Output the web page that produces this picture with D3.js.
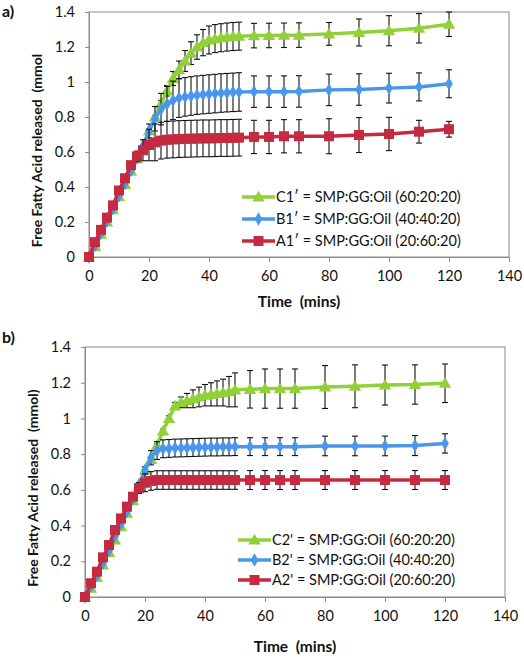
<!DOCTYPE html>
<html><head><meta charset="utf-8">
<script src="https://cdn.jsdelivr.net/npm/d3@7"></script>
<style>
body{margin:0;background:#fff;}
svg{display:block;}
text{font-family:Lato,"Open Sans",sans-serif;white-space:pre;}
</style></head>
<body>
<svg id="chart" width="524" height="658"></svg>
<script>
// ---------- DATA ----------
const times = [0,2,4,6,8,10,12,14,16,18,20,22,24,26,28,30,32,34,36,38,40,42,44,46,48,50,55,60,65,70,80,90,100,110,120];

// Panel a
const a_C1 = [0,0.06,0.13,0.2,0.27,0.345,0.415,0.49,0.56,0.635,0.72,0.8,0.875,0.95,1.02,1.07,1.12,1.165,1.2,1.225,1.24,1.248,1.253,1.257,1.26,1.262,1.265,1.266,1.267,1.268,1.275,1.283,1.293,1.307,1.33];
const a_C1err = [0,0,0,0,0,0,0,0,0,0,0.01,0.01,0.02,0.03,0.04,0.05,0.06,0.065,0.07,0.075,0.08,0.08,0.08,0.08,0.08,0.08,0.07,0.07,0.07,0.07,0.065,0.077,0.086,0.084,0.07];
const a_B1 = [0,0.065,0.135,0.205,0.275,0.35,0.42,0.495,0.565,0.635,0.72,0.79,0.845,0.875,0.895,0.908,0.915,0.92,0.925,0.928,0.931,0.934,0.937,0.939,0.941,0.943,0.945,0.945,0.945,0.946,0.955,0.957,0.965,0.972,0.99];
const a_B1err = [0,0,0,0,0,0,0,0,0,0,0.04,0.07,0.09,0.1,0.11,0.11,0.11,0.11,0.11,0.11,0.11,0.11,0.11,0.11,0.11,0.11,0.09,0.09,0.09,0.09,0.09,0.09,0.085,0.08,0.08];
const a_A1 = [0,0.085,0.155,0.225,0.295,0.38,0.45,0.525,0.575,0.61,0.64,0.655,0.665,0.67,0.672,0.674,0.675,0.676,0.677,0.678,0.678,0.679,0.68,0.68,0.681,0.682,0.686,0.686,0.69,0.69,0.69,0.697,0.703,0.716,0.73];
const a_A1err = [0,0,0,0,0,0,0,0,0.03,0.06,0.09,0.105,0.105,0.105,0.105,0.105,0.105,0.105,0.105,0.105,0.105,0.105,0.105,0.105,0.105,0.105,0.095,0.095,0.095,0.095,0.1,0.1,0.095,0.065,0.045];

// Panel b
const b_C2 = [0,0.05,0.11,0.18,0.25,0.32,0.394,0.469,0.54,0.62,0.71,0.77,0.85,0.93,1.0,1.07,1.09,1.1,1.11,1.12,1.13,1.135,1.14,1.145,1.15,1.16,1.163,1.167,1.167,1.167,1.176,1.18,1.187,1.19,1.197];
const b_C2err = [0,0,0,0,0,0,0,0,0,0,0,0.01,0.01,0.01,0.015,0.02,0.03,0.04,0.05,0.055,0.06,0.065,0.07,0.075,0.085,0.095,0.105,0.11,0.11,0.11,0.12,0.12,0.112,0.11,0.108];
const b_B2 = [0,0.06,0.12,0.19,0.26,0.34,0.41,0.48,0.55,0.63,0.71,0.78,0.82,0.83,0.832,0.834,0.835,0.836,0.837,0.838,0.839,0.84,0.84,0.841,0.841,0.842,0.842,0.842,0.842,0.842,0.846,0.846,0.846,0.848,0.86];
const b_B2err = [0,0,0,0,0,0,0,0,0,0,0.02,0.04,0.05,0.05,0.05,0.05,0.05,0.05,0.05,0.05,0.05,0.05,0.05,0.05,0.05,0.05,0.05,0.05,0.05,0.05,0.055,0.055,0.055,0.056,0.054];
const b_A2 = [0,0.077,0.142,0.222,0.291,0.375,0.44,0.506,0.562,0.61,0.64,0.65,0.655,0.655,0.655,0.655,0.655,0.655,0.655,0.655,0.655,0.655,0.655,0.655,0.655,0.655,0.655,0.655,0.655,0.655,0.655,0.655,0.655,0.655,0.655];
const b_A2err = [0,0,0,0,0,0,0,0,0,0.03,0.05,0.052,0.052,0.052,0.052,0.052,0.052,0.052,0.052,0.052,0.052,0.052,0.052,0.052,0.052,0.052,0.053,0.053,0.053,0.053,0.053,0.053,0.053,0.053,0.053];

const xTicks = [0,20,40,60,80,100,120,140];
const yTicks = [0,0.2,0.4,0.6,0.8,1,1.2,1.4];
const yTickLabels = ["0","0.2","0.4","0.6","0.8","1","1.2","1.4"];

const labels_a = ["C1\u2032 = SMP:GG:Oil (60:20:20)","B1\u2032 = SMP:GG:Oil (40:40:20)","A1\u2032 = SMP:GG:Oil (20:60:20)"];
const labels_b = ["C2' = SMP:GG:Oil (60:20:20)","B2' = SMP:GG:Oil (40:40:20)","A2' = SMP:GG:Oil (20:60:20)"];

const colors = {green:"#92D03A", blue:"#4A96EA", red:"#C62A40"};

// ---------- DRAW ----------
const svg = d3.select("#chart");

function marker(g, type, color, x, y){
  if(type==="square"){
    g.append("rect").attr("x",x-5).attr("y",y-5).attr("width",10).attr("height",10).attr("fill",color);
  } else if(type==="triangle"){
    g.append("path").attr("d",d3.symbol().type(d3.symbolTriangle).size(66)()).attr("transform",`translate(${x},${y+1})`).attr("fill",color);
  } else {
    g.append("path").attr("d",d3.symbol().type(d3.symbolDiamond).size(52)()).attr("transform",`translate(${x},${y})`).attr("fill",color);
  }
}

function panel(cfg){
  const x = d3.scaleLinear().domain([0,140]).range([cfg.x0,cfg.x1]);
  const y = d3.scaleLinear().domain([0,1.4]).range([cfg.y0,cfg.y1]);
  const g = svg.append("g");

  g.append("rect").attr("x",cfg.x0).attr("y",cfg.y1).attr("width",cfg.x1-cfg.x0).attr("height",cfg.y0-cfg.y1)
    .attr("fill","none").attr("stroke","#8c8c8c").attr("stroke-width",1);

  const xa = g.append("g").attr("transform",`translate(0,${cfg.y0})`)
    .call(d3.axisBottom(x).tickValues(xTicks).tickSize(5).tickPadding(9).tickFormat(d3.format("d")));
  xa.select(".domain").attr("stroke","#8c8c8c");
  xa.selectAll(".tick line").attr("stroke","#8c8c8c");
  xa.selectAll("text").attr("font-size",14.5).attr("fill","#111");

  const ya = g.append("g").attr("transform",`translate(${cfg.x0},0)`)
    .call(d3.axisLeft(y).tickValues(yTicks).tickSize(4).tickPadding(10).tickFormat((d,i)=>yTickLabels[i]));
  ya.select(".domain").attr("stroke","#8c8c8c");
  ya.selectAll(".tick line").attr("stroke","#8c8c8c");
  ya.selectAll("text").attr("font-size",14.5).attr("fill","#111");

  g.append("text").attr("x",(cfg.x0+cfg.x1)/2).attr("y",cfg.xTitleY).attr("text-anchor","middle")
    .attr("font-size",15.5).attr("font-weight","bold").attr("fill","#111").text("Time  (mins)");
  g.append("text").attr("transform",`translate(${cfg.yTitleX},${(cfg.y0+cfg.y1)/2+16}) rotate(-90)`)
    .attr("text-anchor","middle").attr("font-size",14).attr("font-weight","bold").attr("fill","#111").text(cfg.yTitle);

  svg.append("text").attr("x",2).attr("y",cfg.labelY).attr("font-family","'Liberation Serif',serif")
    .attr("font-weight","bold").attr("font-size",16).attr("fill","#111").text(cfg.label);

  cfg.series.forEach(s=>{
    const sg = g.append("g");
    times.forEach((t,i)=>{
      const e = s.err[i]; if(!e) return;
      const cx = x(t), yt = y(s.vals[i]+e), yb = y(s.vals[i]-e);
      sg.append("line").attr("x1",cx).attr("x2",cx).attr("y1",yt).attr("y2",yb).attr("stroke","#111").attr("stroke-width",1.1);
      sg.append("line").attr("x1",cx-3).attr("x2",cx+3).attr("y1",yt).attr("y2",yt).attr("stroke","#111").attr("stroke-width",1.1);
      sg.append("line").attr("x1",cx-3).attr("x2",cx+3).attr("y1",yb).attr("y2",yb).attr("stroke","#111").attr("stroke-width",1.1);
    });
    const line = d3.line().x((d,i)=>x(times[i])).y(d=>y(d));
    sg.append("path").datum(s.vals).attr("d",line).attr("fill","none").attr("stroke",s.color).attr("stroke-width",3.5);
    times.forEach((t,i)=>marker(sg,s.shape,s.color,x(t),y(s.vals[i])));
  });

  cfg.legendItems.forEach((it,i)=>{
    const ly = cfg.legY + i*cfg.legStep;
    g.append("line").attr("x1",cfg.legX).attr("x2",cfg.legX+33).attr("y1",ly).attr("y2",ly).attr("stroke",it.color).attr("stroke-width",3.5);
    marker(g,it.shape,it.color,cfg.legX+16.5,ly);
    g.append("text").attr("x",cfg.legX+34).attr("y",ly+5).attr("font-size",14.5).attr("fill","#111").text(it.label);
  });
}

panel({
  x0:89, x1:509, y0:257, y1:12, xTitleY:307, yTitleX:42,
  yTitle:"Free Fatty Acid released  (mmol", label:"a)", labelY:17,
  series:[
    {vals:a_C1, err:a_C1err, color:colors.green, shape:"triangle"},
    {vals:a_B1, err:a_B1err, color:colors.blue, shape:"diamond"},
    {vals:a_A1, err:a_A1err, color:colors.red, shape:"square"}
  ],
  legendItems:[
    {label:labels_a[0], color:colors.green, shape:"triangle"},
    {label:labels_a[1], color:colors.blue, shape:"diamond"},
    {label:labels_a[2], color:colors.red, shape:"square"}
  ],
  legX:242, legY:197, legStep:22
});

panel({
  x0:85, x1:505, y0:597, y1:347, xTitleY:652, yTitleX:38,
  yTitle:"Free Fatty Acid released  (mmol)", label:"b)", labelY:343,
  series:[
    {vals:b_C2, err:b_C2err, color:colors.green, shape:"triangle"},
    {vals:b_B2, err:b_B2err, color:colors.blue, shape:"diamond"},
    {vals:b_A2, err:b_A2err, color:colors.red, shape:"square"}
  ],
  legendItems:[
    {label:labels_b[0], color:colors.green, shape:"triangle"},
    {label:labels_b[1], color:colors.blue, shape:"diamond"},
    {label:labels_b[2], color:colors.red, shape:"square"}
  ],
  legX:238, legY:540, legStep:20
});
</script>
</body></html>
